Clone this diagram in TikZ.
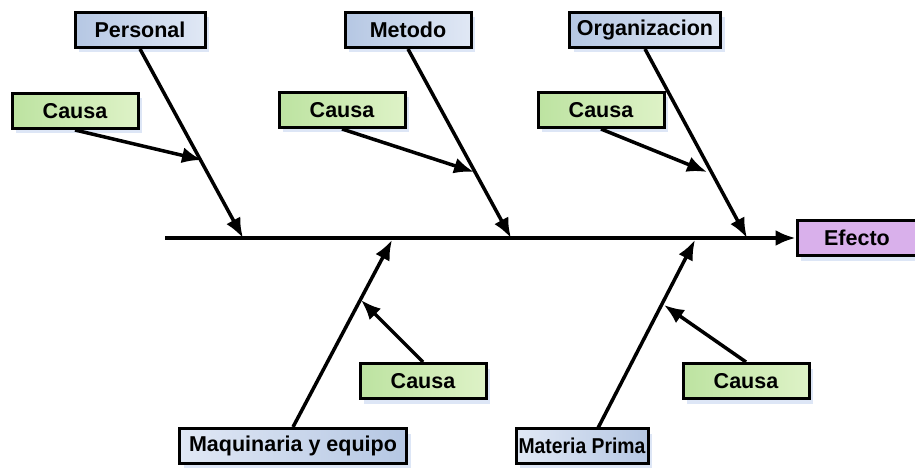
\documentclass[tikz,border=0pt]{standalone}
\usepackage{fontspec}
\setmainfont{Liberation Sans}
\usetikzlibrary{arrows.meta,shadows}

\definecolor{catoscuro}{rgb}{0.71,0.78,0.89}
\definecolor{catclaro}{rgb}{0.88,0.91,0.96}
\definecolor{causaoscuro}{rgb}{0.74,0.89,0.63}
\definecolor{causaclaro}{rgb}{0.87,0.95,0.78}
\definecolor{efecto}{rgb}{0.85,0.69,0.92}
\definecolor{sombra}{rgb}{0.62,0.72,0.90}

\begin{document}
\begin{tikzpicture}[x=1pt,y=-1pt,
    caja/.style={draw=black, line width=3pt, minimum height=35pt, inner sep=0pt,
        font=\fontsize{21.5}{23}\selectfont\bfseries,
        drop shadow={shadow xshift=4pt, shadow yshift=-5pt, fill=sombra, opacity=0.35}},
    categoria/.style={caja, left color=catoscuro, right color=catclaro},
    categoriab/.style={caja, left color=catclaro, right color=catoscuro},
    causa/.style={caja, left color=causaoscuro, right color=causaclaro, minimum width=126pt},
    hueso/.style={line width=3.5pt, -{Latex[length=20pt,width=16pt]}}]
    \useasboundingbox (0,0) rectangle (915,468);

    % espina
    \node[caja, fill=efecto, minimum width=120pt] (efecto) at (857,238) {Efecto};
    \coordinate (cola) at (165,238);
    \draw[hueso] (cola) -- (efecto.west);

    % arriba
    \node[categoria, minimum width=130pt] (personal) at (140,30) {Personal};
    \node[categoria, minimum width=126pt] (metodo) at (408,30) {Metodo};
    \node[categoria, minimum width=151pt] (organizacion) at (645,30) {Organizacion};
    \coordinate (p1) at (243,238);
    \coordinate (p2) at (511,238);
    \coordinate (p3) at (747,238);
    \draw[hueso] (personal.south) -- (p1);
    \draw[hueso] (metodo.south) -- (p2);
    \draw[hueso] (organizacion.south) -- (p3);

    \node[causa] (causa1) at (75,111) {Causa};
    \node[causa] (causa2) at (342,110) {Causa};
    \node[causa] (causa3) at (601,110) {Causa};
    \coordinate (c1) at (202,160);
    \coordinate (c2) at (474,172);
    \coordinate (c3) at (707,172);
    \draw[hueso] (causa1.south) -- (c1);
    \draw[hueso] (causa2.south) -- (c2);
    \draw[hueso] (causa3.south) -- (c3);

    % abajo
    \node[categoriab, minimum width=227pt] (maquinaria) at (293,446) {Maquinaria y equipo};
    \node[categoriab, minimum width=132pt] (materia) at (582,446)
        {\scalebox{0.9}[1]{Materia Prima}};
    \coordinate (m0) at (598,428);
    \coordinate (p4) at (392,240);
    \coordinate (p5) at (695,240);
    \draw[hueso] (maquinaria.north) -- (p4);
    \draw[hueso] (m0) -- (p5);

    \node[causa] (causa4) at (423,381) {Causa};
    \node[causa] (causa5) at (746,381) {Causa};
    \coordinate (c4) at (361,300);
    \coordinate (c5) at (664,305);
    \draw[hueso] (causa4.north) -- (c4);
    \draw[hueso] (causa5.north) -- (c5);
\end{tikzpicture}
\end{document}
